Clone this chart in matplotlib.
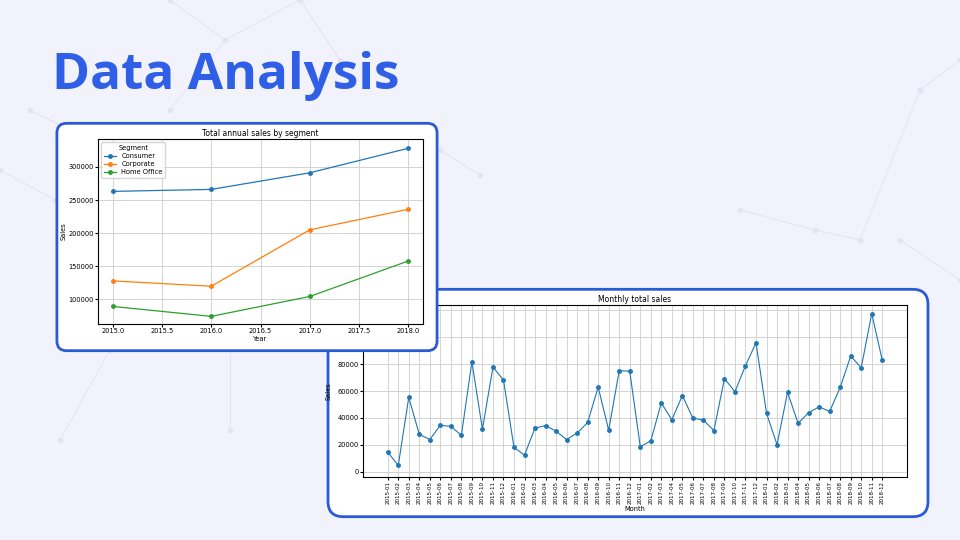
import matplotlib
matplotlib.use("Agg")
import matplotlib.pyplot as plt
from matplotlib.patches import FancyBboxPatch

years = [2015, 2016, 2017, 2018]
consumer = [263000, 266000, 291000, 328000]
corporate = [128000, 120000, 205000, 236000]
home_office = [89500, 74500, 104500, 158000]

months = [f"{y}-{m:02d}" for y in range(2015, 2019) for m in range(1, 13)]
monthly_sales = [14500, 4600, 55200, 27700, 23900, 34500, 33700, 27000, 81700, 31600, 77800, 68200,
                 18000, 12300, 32500, 34200, 30100, 23900, 28700, 36600, 62900, 30800, 75200, 74700,
                 18600, 22900, 51100, 38600, 56600, 39800, 38300, 30600, 69200, 59500, 78800, 95900,
                 43400, 20000, 59000, 35900, 43900, 48200, 44800, 62700, 86000, 77300, 117600, 82900]

W, H = 960, 540
fig = plt.figure(figsize=(9.6, 5.4), dpi=100)
fig.patch.set_facecolor("#f1f2fb")

def fr(x0, y0, x1, y1):
    return [x0 / W, 1 - y1 / H, (x1 - x0) / W, (y1 - y0) / H]

# decorative background lines
deco = fig.add_axes([0, 0, 1, 1]); deco.set_xlim(0, W); deco.set_ylim(H, 0); deco.axis("off")
segs = [((170, 0), (225, 40)), ((225, 40), (300, 0)), ((225, 40), (170, 110)), ((300, 0), (340, 60)),
        ((920, 90), (860, 240)), ((920, 90), (960, 60)), ((860, 240), (815, 230)), ((815, 230), (740, 210)),
        ((0, 170), (55, 200)), ((30, 110), (110, 150)), ((440, 150), (480, 175)), ((230, 350), (230, 430)),
        ((110, 350), (60, 440)), ((900, 240), (960, 280))]
for (a, b) in segs:
    deco.plot([a[0], b[0]], [a[1], b[1]], color="#e2e4f2", lw=0.7)
    deco.plot([a[0], b[0]], [a[1], b[1]], "o", color="#e2e4f2", ms=3)

fig.text(52 / W, 1 - 76 / H, "Data Analysis", fontsize=37, fontweight="bold", color="#2f5fe6",
         family="Open Sans", va="center", ha="left")

def panel(x0, y0, x1, y1):
    a = fig.add_axes(fr(x0, y0, x1, y1)); a.axis("off")
    a.set_xlim(0, 1); a.set_ylim(0, 1)
    a.add_patch(FancyBboxPatch((0.005, 0.01), 0.99, 0.98, boxstyle="round,pad=0,rounding_size=0.025",
                               fc="white", ec="#2a5bd7", lw=2, transform=a.transAxes,
                               mutation_aspect=(x1 - x0) / (y1 - y0)))

fs = 4.8
# panel 2 (behind)
panel(325, 287, 931, 519)
ax2 = fig.add_axes(fr(363, 305, 907, 477))
ax2.plot(months, monthly_sales, marker="o", ms=2.5, lw=0.8, color="#1f77b4")
ax2.set_title("Monthly total sales", fontsize=5.5, pad=2)
ax2.set_xlabel("Month", fontsize=fs, labelpad=1)
ax2.set_ylabel("Sales", fontsize=fs, labelpad=1)
ax2.set_ylim(-4000, 124000)
ax2.set_yticks([0, 20000, 40000, 60000, 80000, 100000, 120000])
ax2.tick_params(labelsize=fs, length=2, pad=1)
ax2.tick_params(axis="x", rotation=90, labelsize=4.0)
ax2.grid(True, color="#cccccc", lw=0.6)

# panel 1 (front)
panel(55, 121, 439, 353)
ax1 = fig.add_axes(fr(98, 139, 423, 324))
ax1.plot(years, consumer, marker="o", ms=2.5, lw=0.9, label="Consumer")
ax1.plot(years, corporate, marker="o", ms=2.5, lw=0.9, label="Corporate")
ax1.plot(years, home_office, marker="o", ms=2.5, lw=0.9, label="Home Office")
ax1.set_title("Total annual sales by segment", fontsize=5.5, pad=2)
ax1.set_xlabel("Year", fontsize=fs, labelpad=1)
ax1.set_ylabel("Sales", fontsize=fs, labelpad=1)
ax1.set_xlim(2014.85, 2018.15)
ax1.set_ylim(63000, 342000)
ax1.set_xticks([2015.0, 2015.5, 2016.0, 2016.5, 2017.0, 2017.5, 2018.0])
ax1.set_xticklabels(["2015.0", "2015.5", "2016.0", "2016.5", "2017.0", "2017.5", "2018.0"])
ax1.tick_params(labelsize=fs, length=2, pad=1)
ax1.grid(True, color="#cccccc", lw=0.6)
leg = ax1.legend(title="Segment", fontsize=fs, title_fontsize=fs, loc="upper left", borderpad=0.4,
                 handlelength=1.8, labelspacing=0.3)

fig.savefig("out.png", dpi=100, facecolor=fig.get_facecolor())
